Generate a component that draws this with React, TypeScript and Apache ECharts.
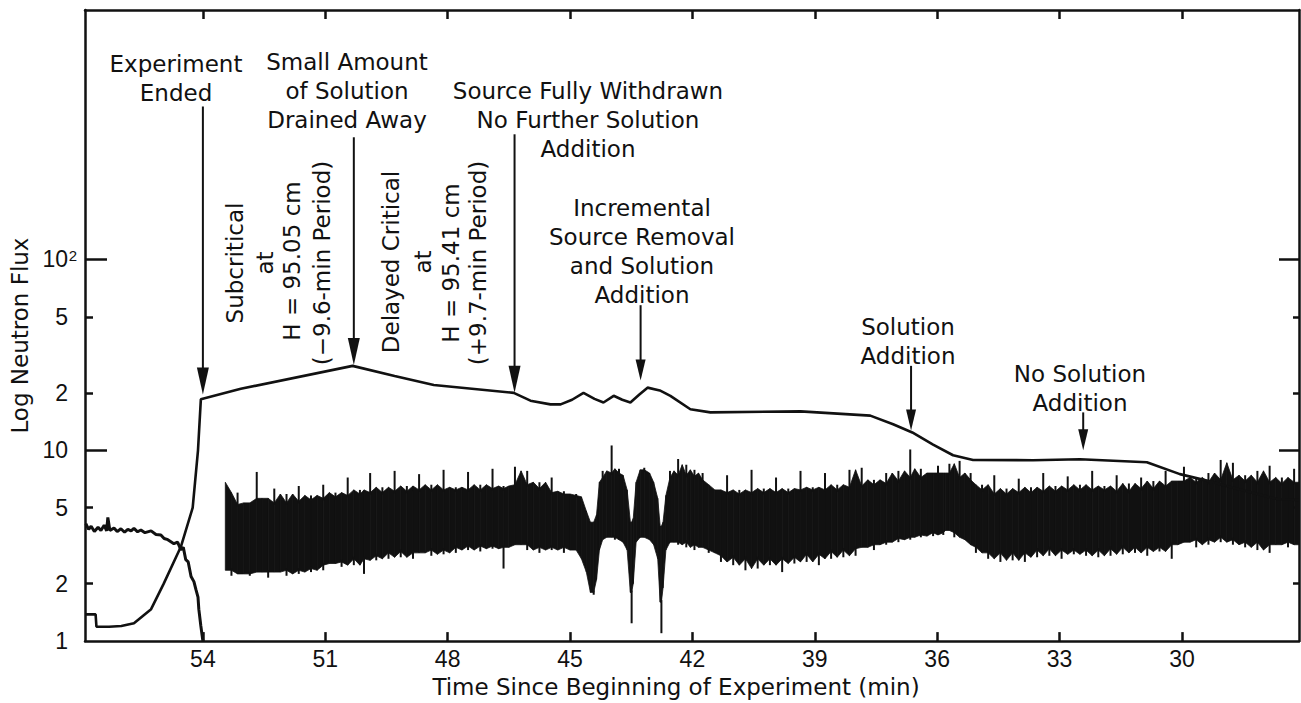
import React, { useEffect, useRef } from "react";
import * as echarts from "echarts";

// ---------- axes ----------
const xTicks = [54, 51, 48, 45, 42, 39, 36, 33, 30];
const yLabelValues = [1, 2, 5, 10, 20, 50, 100];
const yLabelTexts = ["1", "2", "5", "10", "2", "5", "10^2"];
const yMinorTicks = [2, 5, 20, 50];
const yMajorTicks = [10, 100];
const xMin = 27.13;
const xMax = 56.89;
const yMin = 1;
const yMax = 2030;

// ---------- upper (log-count-rate) trace ----------
const upperTime = [56.89, 56.63, 56.61, 56.3, 56.0, 55.69, 55.27, 54.96, 54.54, 54.25, 54.12, 54.05, 53.98, 53.07, 50.33, 49.3, 48.34, 46.38, 45.97, 45.48, 45.23, 44.95, 44.67, 44.4, 44.18, 43.93, 43.72, 43.52, 43.3, 43.1, 42.8, 42.54, 42.05, 41.56, 39.35, 37.64, 37.08, 36.61, 36.1, 35.61, 35.12, 33.65, 32.5, 30.86, 30.05, 29.24, 28.82, 28.41, 27.67, 27.13];
const upperFlux = [1.38, 1.38, 1.19, 1.19, 1.2, 1.24, 1.47, 2.0, 3.12, 5.0, 10.0, 18.5, 18.7, 21.0, 27.7, 24.5, 22.0, 20.0, 18.2, 17.4, 17.4, 18.4, 20.0, 18.6, 17.8, 19.3, 18.4, 17.8, 19.6, 21.3, 20.6, 19.3, 16.4, 15.8, 16.0, 15.2, 13.7, 12.4, 10.7, 9.42, 8.9, 8.87, 8.98, 8.66, 7.5, 6.81, 6.42, 6.1, 5.55, 5.5];

// ---------- lower-left trace (count rate before shutdown) ----------
const lowerTime = [56.87, 56.8, 56.74, 56.66, 56.57, 56.5, 56.42, 56.36, 56.33, 56.28, 56.18, 56.1, 56.01, 55.92, 55.84, 55.76, 55.69, 55.6, 55.52, 55.42, 55.27, 55.15, 55.03, 54.95, 54.86, 54.71, 54.62, 54.54, 54.48, 54.42, 54.36, 54.29, 54.22, 54.17, 54.12, 54.1, 54.05, 54.0];
const lowerFlux = [4.12, 3.85, 4.0, 3.75, 3.95, 3.8, 4.05, 3.78, 4.45, 3.8, 3.92, 3.75, 3.88, 3.72, 3.85, 3.78, 3.9, 3.74, 3.82, 3.7, 3.78, 3.62, 3.6, 3.45, 3.4, 3.24, 3.3, 3.01, 3.1, 2.67, 2.6, 2.18, 2.05, 1.86, 1.7, 1.47, 1.2, 1.0];

// ---------- noisy band (upper / lower envelope) ----------
const bandTime = [53.45, 53.3, 53.15, 53.0, 52.85, 52.68, 52.55, 52.4, 52.25, 52.1, 51.95, 51.8, 51.65, 51.5, 51.35, 51.2, 51.05, 50.9, 50.75, 50.6, 50.45, 50.3, 50.15, 50.05, 49.9, 49.75, 49.6, 49.45, 49.3, 49.15, 49.0, 48.85, 48.7, 48.55, 48.4, 48.25, 48.1, 47.95, 47.8, 47.65, 47.5, 47.35, 47.2, 47.05, 46.9, 46.75, 46.63, 46.5, 46.35, 46.2, 46.05, 45.9, 45.75, 45.6, 45.45, 45.3, 45.15, 45.0, 44.85, 44.72, 44.6, 44.5, 44.42, 44.35, 44.28, 44.2, 44.1, 43.98, 43.9, 43.8, 43.7, 43.6, 43.52, 43.49, 43.45, 43.38, 43.28, 43.18, 43.05, 42.95, 42.85, 42.79, 42.76, 42.72, 42.65, 42.55, 42.45, 42.35, 42.25, 42.15, 42.05, 41.95, 41.85, 41.75, 41.6, 41.45, 41.3, 41.15, 41.0, 40.85, 40.7, 40.55, 40.4, 40.25, 40.1, 39.95, 39.8, 39.65, 39.5, 39.35, 39.2, 39.05, 38.9, 38.75, 38.6, 38.45, 38.3, 38.15, 38.0, 37.85, 37.7, 37.55, 37.4, 37.25, 37.1, 36.95, 36.8, 36.66, 36.55, 36.4, 36.25, 36.1, 35.98, 35.85, 35.8, 35.7, 35.58, 35.45, 35.32, 35.18, 35.05, 34.9, 34.75, 34.6, 34.45, 34.3, 34.15, 34.0, 33.85, 33.7, 33.55, 33.4, 33.25, 33.1, 32.95, 32.8, 32.65, 32.5, 32.35, 32.2, 32.05, 31.9, 31.75, 31.6, 31.45, 31.3, 31.15, 31.0, 30.85, 30.7, 30.55, 30.4, 30.25, 30.1, 29.95, 29.8, 29.65, 29.5, 29.35, 29.2, 29.05, 28.9, 28.75, 28.6, 28.45, 28.3, 28.15, 28.0, 27.85, 27.7, 27.55, 27.4, 27.25, 27.13];
const bandHigh = [6.8, 5.2, 6.0, 5.0, 5.3, 7.7, 5.6, 5.1, 6.3, 5.3, 5.9, 5.2, 6.5, 5.4, 5.8, 5.5, 6.6, 5.6, 6.0, 5.7, 7.2, 5.8, 6.2, 5.9, 7.6, 6.0, 6.4, 5.9, 7.8, 6.1, 6.5, 6.0, 7.5, 6.2, 6.6, 6.1, 7.9, 6.2, 6.4, 6.0, 7.7, 6.2, 6.6, 6.1, 8.0, 6.3, 6.5, 6.2, 8.2, 6.6, 7.8, 6.3, 6.8, 6.0, 7.2, 5.9, 6.1, 5.8, 5.9, 5.7, 4.8, 4.2, 4.0, 4.6, 6.8, 7.8, 7.2, 10.6, 7.6, 8.0, 7.4, 6.2, 4.2, 3.6, 4.4, 6.8, 7.9, 8.1, 7.6, 6.8, 5.6, 4.0, 3.5, 4.2, 5.8, 7.8, 7.2, 9.0, 7.4, 8.4, 7.3, 7.9, 7.0, 7.6, 6.6, 6.2, 6.0, 7.4, 5.9, 6.2, 5.8, 7.9, 6.0, 6.3, 5.8, 7.2, 6.0, 6.3, 5.9, 7.8, 6.2, 6.4, 6.0, 7.6, 6.2, 6.6, 6.1, 7.9, 6.4, 8.1, 6.5, 7.0, 6.6, 7.6, 6.7, 7.8, 6.9, 10.1, 7.2, 8.0, 7.0, 7.6, 8.3, 7.4, 7.6, 8.5, 7.2, 8.8, 7.0, 7.6, 6.2, 6.6, 5.7, 7.4, 5.9, 6.3, 5.8, 7.1, 6.0, 6.4, 5.9, 7.6, 6.1, 6.5, 6.0, 7.3, 6.2, 6.6, 6.0, 7.8, 6.2, 6.5, 6.0, 7.4, 6.1, 6.7, 6.0, 7.2, 6.3, 6.9, 6.2, 7.8, 6.5, 6.9, 8.2, 6.8, 7.2, 6.6, 7.6, 6.8, 8.9, 7.0, 8.6, 6.9, 7.4, 6.7, 7.8, 6.8, 8.3, 6.7, 7.2, 6.5, 8.0, 6.8];
const bandLow = [2.35, 2.2, 2.45, 2.25, 2.2, 2.3, 2.45, 2.15, 2.3, 2.5, 2.2, 2.35, 2.25, 2.4, 2.3, 2.5, 2.35, 2.55, 2.6, 2.45, 2.7, 2.5, 2.7, 2.25, 2.8, 2.65, 2.9, 2.7, 2.95, 2.75, 3.0, 2.7, 2.9, 3.05, 2.8, 3.0, 2.85, 3.1, 2.9, 3.15, 3.0, 3.2, 2.95, 3.15, 3.05, 3.2, 2.4, 3.1, 3.5, 3.2, 3.0, 3.2, 2.9, 3.1, 3.0, 3.15, 2.9, 3.1, 3.0, 2.7, 2.3, 1.8, 1.75, 2.1, 3.0, 3.4, 3.6, 3.5, 3.4, 3.5, 3.3, 3.0, 1.8, 1.24, 2.0, 3.3, 3.5, 3.6, 3.4, 3.2, 2.7, 1.6, 1.1, 1.9, 3.0, 3.3, 3.4, 3.2, 3.3, 3.1, 3.3, 3.0, 3.2, 3.1, 2.9, 3.0, 2.6, 2.8, 2.5, 2.75, 2.35, 2.7, 2.4, 2.8, 2.5, 2.7, 2.3, 2.75, 2.55, 2.9, 2.6, 2.85, 2.5, 2.95, 2.7, 3.0, 2.75, 3.05, 2.8, 3.1, 3.2, 3.0, 3.3, 3.2, 3.45, 3.3, 3.5, 3.4, 3.6, 3.5, 3.7, 3.55, 3.7, 3.6, 4.6, 3.8, 3.5, 3.7, 3.4, 3.2, 2.9, 3.1, 2.7, 2.9, 2.6, 3.0, 2.65, 2.9, 2.6, 3.0, 2.75, 3.05, 2.8, 3.1, 2.7, 3.0, 2.85, 3.1, 2.8, 3.0, 2.75, 3.05, 2.8, 3.1, 2.85, 3.15, 2.9, 3.1, 2.8, 3.1, 2.95, 3.2, 2.7, 3.2, 3.3, 3.4, 3.1, 3.4, 3.2, 3.5, 3.3, 3.5, 3.2, 3.4, 3.1, 3.3, 3.0, 3.3, 2.9, 3.2, 3.4, 3.1, 3.3, 3.2];

// ---------- annotation arrows (time, start flux, tip flux) ----------
const arrowTime = [54.0, 50.3, 46.36, 43.27, 36.64, 32.42];
const arrowFrom = [634, 437, 453, 57.6, 27.7, 15.8];
const arrowTo = [19.6, 28.0, 20.0, 23.2, 12.7, 10.0];

const FONT = "DejaVu Sans";
const NUMFONT = "Liberation Sans";
const INK = "#111";

function median3(arr: number[], i: number) {
  const a = arr[Math.max(0, i - 1)];
  const b = arr[i];
  const c = arr[Math.min(arr.length - 1, i + 1)];
  return Math.max(Math.min(a, b), Math.min(Math.max(a, b), c));
}

function hText(lines: string[], cx: number, cy: number) {
  return lines.map((t, k) => ({
    type: "text",
    x: cx,
    y: cy + k * 29,
    silent: true,
    style: {
      text: t,
      fill: INK,
      font: `23px "${FONT}"`,
      textAlign: "center",
      textVerticalAlign: "middle",
    },
  }));
}

function vText(t: string, cx: number, cy: number) {
  return {
    type: "text",
    x: cx,
    y: cy,
    rotation: Math.PI / 2,
    silent: true,
    style: {
      text: t,
      fill: INK,
      font: `23px "${FONT}"`,
      textAlign: "center",
      textVerticalAlign: "middle",
    },
  };
}

function yLabel(v: number) {
  const i = yLabelValues.findIndex((t) => Math.abs(v - t) / t < 1e-6);
  if (i < 0) return "";
  const s = yLabelTexts[i];
  if (s.indexOf("^") >= 0) {
    const [b, e] = s.split("^");
    return `{n|${b}}{s|${e}}`;
  }
  return `{n|${s}}{sp| }`;
}

function buildOption() {
  const axisLine = { show: true, onZero: false, lineStyle: { color: INK, width: 2.5 } };
  const tickStyle = { color: INK, width: 2.5 };
  const yBase = { type: "log", logBase: 10, min: yMin, max: yMax, splitLine: { show: false } };
  const xBase = { type: "value", inverse: true, min: xMin, max: xMax, splitLine: { show: false } };
  const coreHigh = bandHigh.map((_, i) => median3(bandHigh, i));
  const coreLow = bandLow.map((_, i) => median3(bandLow, i));

  return {
    animation: false,
    backgroundColor: "#fff",
    grid: { left: 85, right: 2, top: 10, bottom: 58, containLabel: false },
    xAxis: [
      {
        ...xBase,
        position: "bottom",
        axisLine,
        axisTick: { show: true, inside: true, length: 9, customValues: xTicks, lineStyle: tickStyle },
        axisLabel: { show: true, customValues: xTicks, margin: 6, fontSize: 23, fontFamily: NUMFONT, color: INK },
        name: "Time Since Beginning of Experiment (min)",
        nameLocation: "middle",
        nameGap: 31,
        nameTextStyle: { fontSize: 23, fontFamily: FONT, color: INK, padding: [0, 32, 0, 0] },
      },
      {
        ...xBase,
        position: "top",
        axisLine,
        axisTick: { show: true, inside: true, length: 9, customValues: xTicks, lineStyle: tickStyle },
        axisLabel: { show: false },
      },
    ],
    yAxis: [
      {
        ...yBase,
        position: "left",
        axisLine,
        axisTick: { show: true, inside: true, length: 8, customValues: yMinorTicks, lineStyle: tickStyle },
        axisLabel: {
          show: true,
          customValues: yLabelValues,
          margin: 7,
          fontSize: 23,
          fontFamily: NUMFONT,
          color: INK,
          formatter: (v: number) => yLabel(v),
          rich: {
            n: { fontSize: 23, fontFamily: NUMFONT, color: INK },
            s: { fontSize: 15, fontFamily: NUMFONT, color: INK, verticalAlign: "top", width: 10, align: "left" },
            sp: { fontSize: 15, fontFamily: NUMFONT, color: INK, width: 10 },
          },
        },
        name: "Log Neutron Flux",
        nameLocation: "middle",
        nameRotate: 90,
        nameGap: 50,
        nameTextStyle: { fontSize: 23, fontFamily: FONT, color: INK, padding: [0, 20, 0, 0] },
      },
      {
        ...yBase,
        position: "left",
        axisLine: { show: false },
        axisTick: { show: true, inside: true, length: 22, customValues: yMajorTicks, lineStyle: tickStyle },
        axisLabel: { show: false },
      },
      {
        ...yBase,
        position: "right",
        axisLine,
        axisTick: { show: true, inside: true, length: 6, customValues: yMinorTicks, lineStyle: tickStyle },
        axisLabel: { show: false },
      },
      {
        ...yBase,
        position: "right",
        axisLine: { show: false },
        axisTick: { show: true, inside: true, length: 20, customValues: yMajorTicks, lineStyle: tickStyle },
        axisLabel: { show: false },
      },
    ],
    series: [
      {
        name: "Noise band",
        type: "custom",
        xAxisIndex: 0,
        yAxisIndex: 0,
        data: bandTime.map((t, i) => [t, bandHigh[i], bandLow[i]]),
        encode: { x: 0, y: [1, 2] },
        z: 2,
        renderItem: (params: any, api: any) => {
          const i = params.dataIndex;
          const children: any[] = [];
          if (i < bandTime.length - 1) {
            const a = api.coord([bandTime[i], coreHigh[i]]);
            const b = api.coord([bandTime[i + 1], coreHigh[i + 1]]);
            const c = api.coord([bandTime[i + 1], coreLow[i + 1]]);
            const d = api.coord([bandTime[i], coreLow[i]]);
            children.push({
              type: "polygon",
              shape: { points: [a, b, c, d] },
              style: { fill: INK, stroke: INK, lineWidth: 0.8 },
            });
          }
          if (bandHigh[i] > coreHigh[i]) {
            const p = api.coord([bandTime[i], coreHigh[i]]);
            const q = api.coord([bandTime[i], bandHigh[i]]);
            children.push({ type: "line", shape: { x1: p[0], y1: p[1] + 2, x2: q[0], y2: q[1] }, style: { stroke: INK, lineWidth: 2 } });
          }
          if (bandLow[i] < coreLow[i]) {
            const p = api.coord([bandTime[i], coreLow[i]]);
            const q = api.coord([bandTime[i], bandLow[i]]);
            children.push({ type: "line", shape: { x1: p[0], y1: p[1] - 2, x2: q[0], y2: q[1] }, style: { stroke: INK, lineWidth: 2 } });
          }
          return { type: "group", children };
        },
      },
      {
        name: "Upper trace",
        type: "line",
        xAxisIndex: 0,
        yAxisIndex: 0,
        data: upperTime.map((t, i) => [t, upperFlux[i]]),
        showSymbol: false,
        symbol: "none",
        z: 3,
        lineStyle: { color: INK, width: 2.6 },
      },
      {
        name: "Lower trace",
        type: "line",
        xAxisIndex: 0,
        yAxisIndex: 0,
        data: lowerTime.map((t, i) => [t, lowerFlux[i]]),
        showSymbol: false,
        symbol: "none",
        z: 3,
        lineStyle: { color: INK, width: 3 },
      },
      {
        name: "Arrows",
        type: "custom",
        xAxisIndex: 0,
        yAxisIndex: 0,
        data: arrowTime.map((t, i) => [t, arrowFrom[i], arrowTo[i]]),
        encode: { x: 0, y: [1, 2] },
        z: 5,
        clip: false,
        renderItem: (params: any, api: any) => {
          const i = params.dataIndex;
          const top = api.coord([arrowTime[i], arrowFrom[i]]);
          const tip = api.coord([arrowTime[i], arrowTo[i]]);
          const long = tip[1] - top[1] > 150;
          const hl = long ? 27 : 21;
          const hw = long ? 6 : 5;
          return {
            type: "group",
            children: [
              {
                type: "line",
                shape: { x1: top[0], y1: top[1], x2: tip[0], y2: tip[1] - hl + 2 },
                style: { stroke: INK, lineWidth: 2 },
              },
              {
                type: "polygon",
                shape: {
                  points: [
                    [tip[0] - hw, tip[1] - hl],
                    [tip[0] + hw, tip[1] - hl],
                    [tip[0], tip[1]],
                  ],
                },
                style: { fill: INK },
              },
            ],
          };
        },
      },
    ],
    graphic: [
      ...hText(["Experiment", "Ended"], 176, 64),
      ...hText(["Small Amount", "of Solution", "Drained Away"], 347, 62),
      ...hText(["Source Fully Withdrawn", "No Further Solution", "Addition"], 588, 91),
      ...hText(["Incremental", "Source Removal", "and Solution", "Addition"], 642, 208),
      ...hText(["Solution", "Addition"], 908, 327),
      ...hText(["No Solution", "Addition"], 1080, 374),
      vText("Subcritical", 235, 263),
      vText("at", 265, 263),
      vText("H = 95.05 cm", 292, 261),
      vText("(\u22129.6-min Period)", 322, 263),
      vText("Delayed Critical", 391, 262),
      vText("at", 423, 262),
      vText("H = 95.41 cm", 451, 263),
      vText("(+9.7-min Period)", 478, 263),
    ],
  };
}

export default function App() {
  const ref = useRef<HTMLDivElement>(null);
  useEffect(() => {
    document.body.style.margin = "0";
    const chart = echarts.init(ref.current as HTMLDivElement, null, { renderer: "svg" });
    chart.setOption(buildOption() as any);
    return () => chart.dispose();
  }, []);
  return <div ref={ref} style={{ width: 1301, height: 703, background: "#fff" }} />;
}
